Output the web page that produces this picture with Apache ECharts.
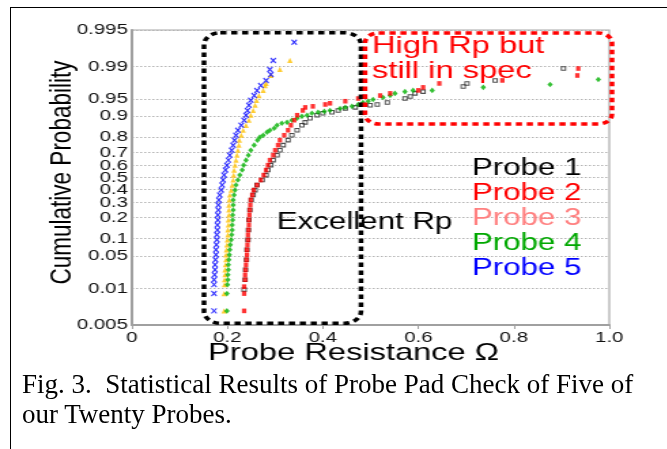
<!DOCTYPE html>
<html>
<head>
<meta charset="utf-8">
<script src="https://cdn.jsdelivr.net/npm/echarts/dist/echarts.min.js"></script>
<style>
  html, body { margin: 0; padding: 0; background: #fff; width: 667px; height: 449px; overflow: hidden; }
  #frame { position: absolute; left: 10px; top: 7px; width: 680px; height: 460px; border: 1px solid #000; box-sizing: border-box; }
  /* the original figure is stretched horizontally, so the chart is drawn narrow and widened */
  #chart { position: absolute; left: 0; top: 0; width: 490px; height: 370px; transform: scaleX(1.36); transform-origin: 0 0; }
  #cap { position: absolute; left: 22px; top: 369px; font: 27px/30px "Liberation Serif", serif; color: #000; white-space: nowrap; }
</style>
</head>
<body>
<div id="frame"></div>
<div id="chart"></div>
<div id="cap">Fig. 3.&nbsp; Statistical Results of Probe Pad Check of Five of<br>our Twenty Probes.</div>
<script>
// Probability plot of probe resistance: x = resistance (ohm), y = cumulative probability
// on a normal-probability scale. Values as [resistance, cum. prob].
const probe1 = [[0.235,0.0094],[0.237,0.0161],[0.238,0.0266],[0.240,0.0424],[0.241,0.0649],[0.243,0.0957],[0.244,0.136],[0.245,0.187],[0.247,0.248],[0.250,0.319],[0.254,0.357],[0.258,0.396],[0.262,0.437],[0.273,0.479],[0.281,0.520],[0.285,0.562],[0.291,0.602],[0.296,0.642],[0.304,0.680],[0.310,0.716],[0.317,0.751],[0.327,0.783],[0.335,0.812],[0.346,0.839],[0.356,0.863],[0.363,0.876],[0.373,0.893],[0.388,0.904],[0.400,0.911],[0.419,0.914],[0.432,0.920],[0.447,0.926],[0.468,0.929],[0.499,0.935],[0.514,0.937],[0.535,0.942],[0.572,0.951],[0.583,0.955],[0.593,0.961],[0.610,0.964],[0.694,0.9718],[0.702,0.9756],[0.761,0.979],[0.904,0.9888]];
const probe2 = [[0.235,0.0026],[0.235,0.0075],[0.235,0.0111],[0.237,0.0161],[0.237,0.0208],[0.238,0.0266],[0.239,0.0338],[0.240,0.0424],[0.241,0.0526],[0.241,0.0649],[0.242,0.0791],[0.243,0.0957],[0.243,0.115],[0.244,0.136],[0.245,0.160],[0.245,0.187],[0.246,0.216],[0.247,0.248],[0.248,0.282],[0.249,0.319],[0.252,0.357],[0.255,0.396],[0.262,0.437],[0.270,0.479],[0.276,0.520],[0.281,0.562],[0.285,0.602],[0.289,0.642],[0.296,0.680],[0.300,0.716],[0.306,0.751],[0.310,0.783],[0.319,0.812],[0.327,0.839],[0.333,0.863],[0.340,0.885],[0.346,0.904],[0.358,0.920],[0.363,0.929],[0.379,0.932],[0.405,0.937],[0.415,0.940],[0.447,0.945],[0.474,0.951],[0.488,0.955],[0.520,0.957],[0.541,0.961],[0.600,0.966],[0.610,0.9705],[0.644,0.9756],[0.776,0.979],[0.933,0.9837],[0.935,0.9888]];
const probe3 = [[0.193,0.0026],[0.193,0.0075],[0.194,0.0124],[0.194,0.0161],[0.195,0.0208],[0.195,0.0266],[0.196,0.0338],[0.197,0.0424],[0.197,0.0526],[0.198,0.0649],[0.199,0.0791],[0.200,0.0957],[0.201,0.115],[0.201,0.136],[0.202,0.160],[0.202,0.187],[0.203,0.216],[0.203,0.248],[0.203,0.282],[0.204,0.319],[0.205,0.357],[0.208,0.396],[0.210,0.437],[0.212,0.479],[0.213,0.520],[0.214,0.562],[0.216,0.602],[0.218,0.642],[0.220,0.680],[0.222,0.716],[0.224,0.751],[0.225,0.783],[0.229,0.812],[0.233,0.839],[0.239,0.863],[0.245,0.885],[0.249,0.904],[0.254,0.920],[0.258,0.935],[0.261,0.947],[0.266,0.957],[0.275,0.966],[0.279,0.973],[0.281,0.9756],[0.291,0.9837],[0.310,0.9882],[0.331,0.9929]];
const probe4 = [[0.199,0.0026],[0.199,0.0075],[0.200,0.0124],[0.201,0.0161],[0.201,0.0208],[0.202,0.0266],[0.202,0.0338],[0.203,0.0424],[0.204,0.0526],[0.205,0.0649],[0.206,0.0791],[0.208,0.0957],[0.209,0.115],[0.210,0.136],[0.210,0.160],[0.211,0.187],[0.211,0.216],[0.212,0.248],[0.212,0.282],[0.212,0.319],[0.214,0.357],[0.216,0.396],[0.218,0.437],[0.222,0.479],[0.226,0.520],[0.231,0.562],[0.234,0.602],[0.239,0.642],[0.244,0.680],[0.249,0.716],[0.256,0.751],[0.263,0.783],[0.268,0.801],[0.275,0.812],[0.283,0.829],[0.289,0.839],[0.298,0.849],[0.304,0.863],[0.314,0.872],[0.325,0.876],[0.335,0.885],[0.346,0.893],[0.356,0.900],[0.367,0.904],[0.377,0.911],[0.390,0.914],[0.403,0.917],[0.415,0.920],[0.436,0.926],[0.447,0.929],[0.461,0.932],[0.474,0.937],[0.484,0.942],[0.495,0.945],[0.505,0.949],[0.526,0.953],[0.541,0.957],[0.551,0.961],[0.572,0.964],[0.589,0.966],[0.629,0.966],[0.736,0.9705],[0.876,0.9744],[0.977,0.980]];
const probe5 = [[0.172,0.0026],[0.172,0.0075],[0.172,0.0124],[0.172,0.0161],[0.173,0.0208],[0.174,0.0266],[0.174,0.0338],[0.175,0.0424],[0.176,0.0526],[0.176,0.0649],[0.177,0.0791],[0.178,0.0957],[0.178,0.115],[0.179,0.136],[0.179,0.160],[0.180,0.187],[0.180,0.216],[0.181,0.248],[0.181,0.282],[0.182,0.319],[0.184,0.357],[0.187,0.396],[0.189,0.437],[0.191,0.479],[0.193,0.520],[0.196,0.562],[0.199,0.602],[0.202,0.642],[0.205,0.680],[0.209,0.716],[0.212,0.751],[0.215,0.783],[0.218,0.812],[0.222,0.839],[0.229,0.863],[0.235,0.885],[0.239,0.904],[0.242,0.920],[0.245,0.935],[0.249,0.947],[0.256,0.957],[0.262,0.966],[0.270,0.973],[0.281,0.979],[0.291,0.9846],[0.289,0.9882],[0.296,0.9929],[0.340,0.9977]];

const probeNames = ["Probe 1", "Probe 2", "Probe 3", "Probe 4", "Probe 5"];
const markColors = ["#222222", "#ff0000", "#ffc000", "#00b000", "#0000ff"];
const labelColors = ["#000000", "#ff0000", "#ff8080", "#00a800", "#0000ff"];
const yTickLabels = ["0.005", "0.01", "0.05", "0.1", "0.2", "0.3", "0.4", "0.5", "0.6", "0.7", "0.8", "0.9", "0.95", "0.99", "0.995"];

// inverse normal CDF (Acklam) -> probability axis
function probit(p) {
  const a = [-3.969683028665376e+01, 2.209460984245205e+02, -2.759285104469687e+02, 1.383577518672690e+02, -3.066479806614716e+01, 2.506628277459239e+00];
  const b = [-5.447609879822406e+01, 1.615858368580409e+02, -1.556989798598866e+02, 6.680131188771972e+01, -1.328068155288572e+01];
  const c = [-7.784894002430293e-03, -3.223964580411365e-01, -2.400758277161838e+00, -2.549732539343734e+00, 4.374664141464968e+00, 2.938163982698783e+00];
  const d = [7.784695709041462e-03, 3.224671290700398e-01, 2.445134137142996e+00, 3.754408661907416e+00];
  const pl = 0.02425;
  if (p < pl) { const q = Math.sqrt(-2 * Math.log(p)); return (((((c[0]*q+c[1])*q+c[2])*q+c[3])*q+c[4])*q+c[5]) / ((((d[0]*q+d[1])*q+d[2])*q+d[3])*q+1); }
  if (p > 1 - pl) { const q = Math.sqrt(-2 * Math.log(1 - p)); return -(((((c[0]*q+c[1])*q+c[2])*q+c[3])*q+c[4])*q+c[5]) / ((((d[0]*q+d[1])*q+d[2])*q+d[3])*q+1); }
  const q = p - 0.5, r = q * q;
  return (((((a[0]*r+a[1])*r+a[2])*r+a[3])*r+a[4])*r+a[5])*q / (((((b[0]*r+b[1])*r+b[2])*r+b[3])*r+b[4])*r+1);
}

const Y_MIN = probit(0.001), Y_MAX = probit(0.999);
// end labels sit on the axis ends, as in the figure
const yTickPos = yTickLabels.map((t, i) => i === 0 ? Y_MIN : i === yTickLabels.length - 1 ? Y_MAX : probit(parseFloat(t)));
const yLabel = (v) => {
  let best = 0;
  yTickPos.forEach((t, i) => { if (Math.abs(t - v) < Math.abs(yTickPos[best] - v)) best = i; });
  return yTickLabels[best];
};

const SX = 1.36; // horizontal stretch of the figure
const FONT = '"Liberation Sans", Arial, sans-serif';
const symbols = ["rect", "rect", "triangle", "diamond", "path://M0,0L10,10M10,0L0,10"];
const sizes = [[3, 3.5], [3.2, 4.6], [4, 5.2], [4, 5.6], [3.8, 5]];

const series = [probe1, probe2, probe3, probe4, probe5].map((pts, i) => ({
  name: probeNames[i], type: "scatter", z: 2 + (i === 1 ? 1 : 0),
  symbol: symbols[i], symbolSize: sizes[i],
  data: pts.map(([r, p]) => [r, probit(p)]),
  itemStyle: i === 0 ? { color: "rgba(255,255,255,0)", borderColor: markColors[0], borderWidth: 1 }
           : i === 4 ? { color: markColors[4], borderColor: markColors[4], borderWidth: 1.2 }
           : { color: markColors[i] },
}));

const chart = echarts.init(document.getElementById("chart"));
chart.setOption({
  animation: false,
  grid: { left: 97, right: 42, top: 30, bottom: 45, show: true, borderColor: "#a8a8a8", borderWidth: 1.2 },
  xAxis: {
    type: "value", min: 0, max: 1, interval: 0.2,
    axisLine: { onZero: false, lineStyle: { color: "#a0a0a0", width: 2 } },
    axisTick: { show: true, length: 4, lineStyle: { color: "#a0a0a0", width: 1 } },
    axisLabel: { margin: 5, fontSize: 15, fontFamily: FONT, color: "#111", formatter: (v) => v === 0 ? "0" : v.toFixed(1) },
    splitLine: { show: false },
  },
  yAxis: {
    type: "value", min: Y_MIN, max: Y_MAX,
    axisLine: { show: true, onZero: false, lineStyle: { color: "#a0a0a0", width: 2 } },
    axisTick: { show: false, customValues: yTickPos },
    axisLabel: { customValues: yTickPos, margin: 3, fontSize: 15, fontFamily: FONT, color: "#111", formatter: yLabel },
    splitLine: { show: true, lineStyle: { color: "#b4b4b4", width: 1, type: [1.5, 1.5] } },
  },
  legend: {
    orient: "vertical", left: 337, top: 151, itemGap: 0, itemWidth: 0, itemHeight: 10, icon: "none",
    selectedMode: false,
    textStyle: { fontSize: 23, lineHeight: 25, fontFamily: FONT },
    data: probeNames.map((n, i) => ({ name: n, textStyle: { color: labelColors[i] } })),
  },
  graphic: [
    { type: "text", x: 203.5, y: 223, z: 50, style: { text: "Excellent Rp", fontSize: 23, fontFamily: FONT, fill: "#000", align: "left", verticalAlign: "middle" } },
    { type: "text", x: 273.5, y: 58.5, z: 50, style: { text: "High Rp but\nstill in spec", fontSize: 24, lineHeight: 25, fontFamily: FONT, fill: "#ff0000", align: "left", verticalAlign: "middle" } },
    { type: "text", x: 153, y: 353.5, z: 50, style: { text: "Probe Resistance Ω", fontSize: 24, fontFamily: FONT, fill: "#000", align: "left", verticalAlign: "middle" } },
    { type: "text", x: 45.5, y: 172.5, rotation: Math.PI / 2, z: 50, style: { text: "Cumulative Probability", fontSize: 22.5, fontFamily: FONT, fill: "#000", align: "center", verticalAlign: "middle" } },
    { type: "rect", z: 60, shape: { x: 204 / SX, y: 32.7, width: 157 / SX, height: 290.6, r: 12 }, style: { fill: "none", stroke: "#000", lineWidth: 3.5, lineDash: [4.5, 3.5] } },
    { type: "rect", z: 60, shape: { x: 365 / SX, y: 33, width: 247 / SX, height: 91, r: 10 }, style: { fill: "none", stroke: "#ff0000", lineWidth: 3.5, lineDash: [4.5, 3.5] } },
  ],
  series,
});
</script>
</body>
</html>
